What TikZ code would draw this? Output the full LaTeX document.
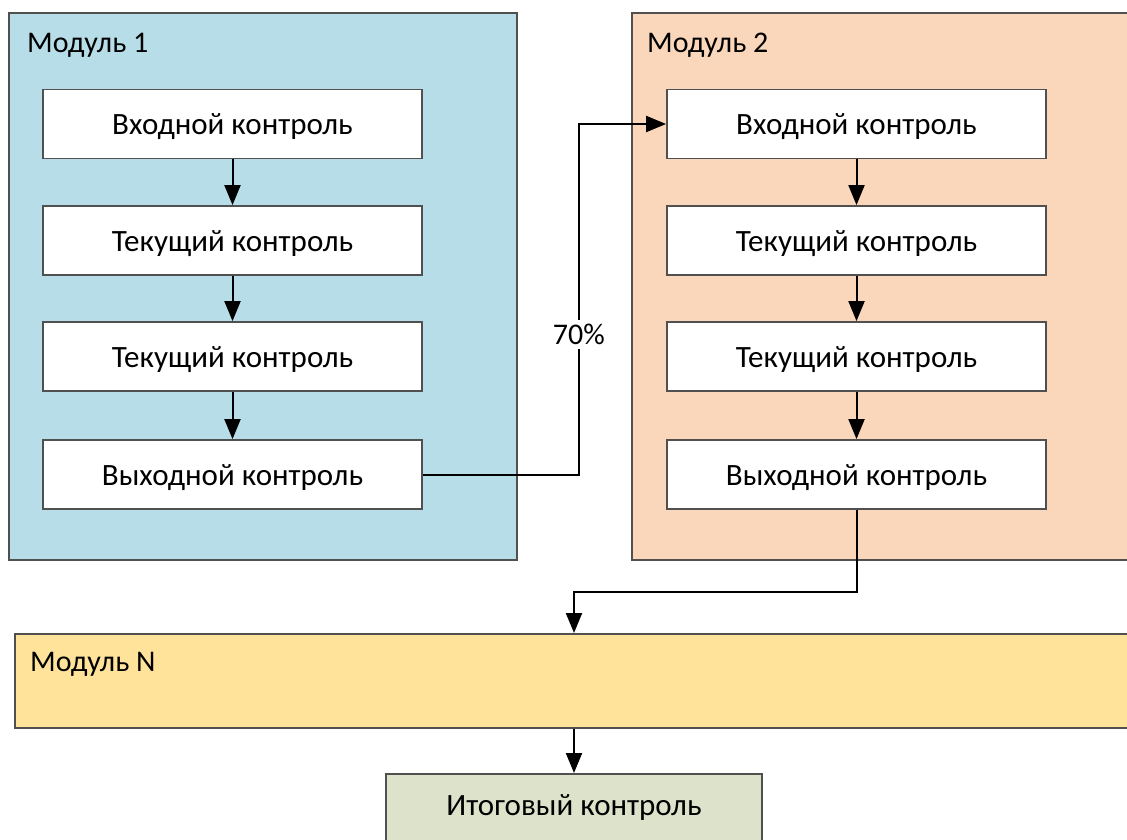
\documentclass[tikz,border=0pt]{standalone}
\usepackage{fontspec}
\setmainfont{Carlito}
\usetikzlibrary{arrows.meta}
\definecolor{modone}{HTML}{B7DDE8}
\definecolor{modtwo}{HTML}{FAD7BB}
\definecolor{modlast}{HTML}{FFE39B}
\definecolor{itog}{HTML}{DDE2CB}
\definecolor{rama}{HTML}{505050}
\tikzset{stage/.style={draw=rama,line width=1.8pt,fill=white,minimum width=379pt,minimum height=69pt,inner sep=0,text height=29pt,text depth=7pt,font=\fontsize{31}{36}\selectfont}}
\tikzset{mod label/.style={anchor=west,inner sep=0,font=\fontsize{30}{34}\selectfont}}
\tikzset{flow/.style={-{Triangle[length=20pt,width=16pt]},line width=2pt}}

\begin{document}
\begin{tikzpicture}[x=1pt,y=-1pt]
          \useasboundingbox (0,0) rectangle (1127,840);

          %Модуль 1
          \filldraw[fill=modone, draw=rama, line width=1.8pt] (9,13) rectangle (517,560);
          \node[mod label] (m1) at (27,45) {Модуль 1};
          \node[stage] (a1) at (232.5,124) {Входной контроль};
          \node[stage] (a2) at (232.5,240.5) {Текущий контроль};
          \node[stage] (a3) at (232.5,356.5) {Текущий контроль};
          \node[stage] (a4) at (232.5,474.5) {Выходной контроль};

          %Модуль 2
          \filldraw[fill=modtwo, draw=rama, line width=1.8pt] (632,13) rectangle (1140,560);
          \node[mod label] (m2) at (647,45) {Модуль 2};
          \node[stage] (b1) at (856.5,124) {Входной контроль};
          \node[stage] (b2) at (856.5,240.5) {Текущий контроль};
          \node[stage] (b3) at (856.5,356.5) {Текущий контроль};
          \node[stage] (b4) at (856.5,474.5) {Выходной контроль};

          %Модуль N
          \node[draw=rama, line width=1.8pt, fill=modlast, minimum width=1140pt, minimum height=94pt, anchor=north west] (mN) at (14,633) {};
          \node[mod label] (mNl) at (30,664) {Модуль N};

          %итог
          \node[stage, fill=itog, minimum width=376pt, minimum height=90pt, anchor=north] (it) at (574,773) {};
          \node[font=\fontsize{31}{36}\selectfont] (itl) at (574,808) {Итоговый контроль};

          %стрелки внутри модулей
          \draw[flow] (a1) -- (a2);
          \draw[flow] (a2) -- (a3);
          \draw[flow] (a3) -- (a4);
          \draw[flow] (b1) -- (b2);
          \draw[flow] (b2) -- (b3);
          \draw[flow] (b3) -- (b4);

          %переход между модулями
          \draw[flow] (a4.east) -- ++(156,0) |- node[pos=0.2, fill=white, inner sep=4pt, font=\fontsize{30}{34}\selectfont] {70\%} (b1.west);
          \draw[flow] (b4.south) -- ++(0,82) -| (mN.north -| it.north);
          \draw[flow] (mN.south -| it.north) -- (it.north);

        \end{tikzpicture}
\end{document}
